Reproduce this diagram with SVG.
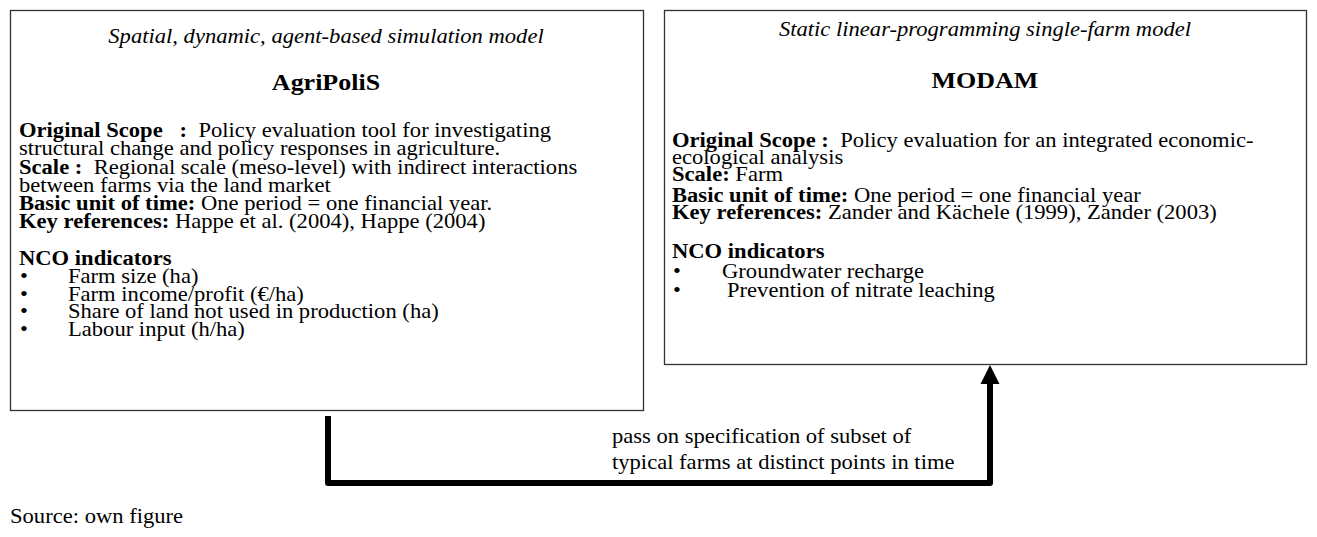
<svg xmlns="http://www.w3.org/2000/svg" width="1317" height="537" viewBox="0 0 1317 537">
<style>
text{font-family:"Liberation Serif","Times New Roman",serif;font-size:20px;fill:#000;white-space:pre}
.it{font-style:italic}
.ttl{font-weight:bold;font-size:23px}
.b{font-weight:bold}
.box{fill:#fff;stroke:#333;stroke-width:1.3}
.conn{fill:none;stroke:#000;stroke-width:6;stroke-linejoin:round}
</style>
<rect width="1317" height="537" fill="#fff"/>
<g id="agripolis">
<rect class="box" x="10.5" y="10.5" width="633" height="400"/>
<g transform="scale(1.13,1)">
<text class="it" x="288.5" y="43" text-anchor="middle">Spatial, dynamic, agent-based simulation model</text>
<text class="ttl" x="288.5" y="90" text-anchor="middle">AgriPoliS</text>
<text x="16.81" y="137"><tspan class="b">Original Scope   :</tspan>  Policy evaluation tool for investigating</text>
<text x="16.81" y="155">structural change and policy responses in agriculture.</text>
<text x="16.81" y="174"><tspan class="b">Scale :</tspan>  Regional scale (meso-level) with indirect interactions</text>
<text x="16.81" y="192">between farms via the land market</text>
<text x="16.81" y="210"><tspan class="b">Basic unit of time:</tspan> One period = one financial year.</text>
<text x="16.81" y="228"><tspan class="b">Key references:</tspan> Happe et al. (2004), Happe (2004)</text>
<text class="b" x="16.81" y="265">NCO indicators</text>
<text x="17.7" y="283">•</text><text x="60.18" y="283">Farm size (ha)</text>
<text x="17.7" y="301">•</text><text x="60.18" y="301">Farm income/profit (€/ha)</text>
<text x="17.7" y="318">•</text><text x="60.18" y="318">Share of land not used in production (ha)</text>
<text x="17.7" y="336">•</text><text x="60.18" y="336">Labour input (h/ha)</text>
</g>
</g>
<g id="modam">
<rect class="box" x="664.5" y="10.5" width="642" height="354"/>
<g transform="scale(1.13,1)">
<text class="it" x="871.68" y="36" text-anchor="middle">Static linear-programming single-farm model</text>
<text class="ttl" x="871.68" y="88" text-anchor="middle">MODAM</text>
<text x="594.69" y="147"><tspan class="b">Original Scope :</tspan>  Policy evaluation for an integrated economic-</text>
<text x="594.69" y="164">ecological analysis</text>
<text x="594.69" y="181"><tspan class="b">Scale:</tspan> Farm</text>
<text x="594.69" y="202"><tspan class="b">Basic unit of time:</tspan> One period = one financial year</text>
<text x="594.69" y="219"><tspan class="b">Key references:</tspan> Zander and Kächele (1999), Zander (2003)</text>
<text class="b" x="594.69" y="258">NCO indicators</text>
<text x="595.58" y="278">•</text><text x="638.94" y="278">Groundwater recharge</text>
<text x="595.58" y="297">•</text><text x="643.36" y="297">Prevention of nitrate leaching</text>
</g>
</g>
<g id="connectors">
<path class="conn" d="M328,416 V483 H990 V382"/>
<polygon points="980.5,384 999.5,384 990,365" fill="#000"/>
</g>
<g id="label" transform="scale(1.13,1)">
<text x="541.59" y="443">pass on specification of subset of</text>
<text x="541.59" y="469">typical farms at distinct points in time</text>
</g>
<g id="source" transform="scale(1.13,1)">
<text x="8.85" y="523">Source: own figure</text>
</g>
</svg>
